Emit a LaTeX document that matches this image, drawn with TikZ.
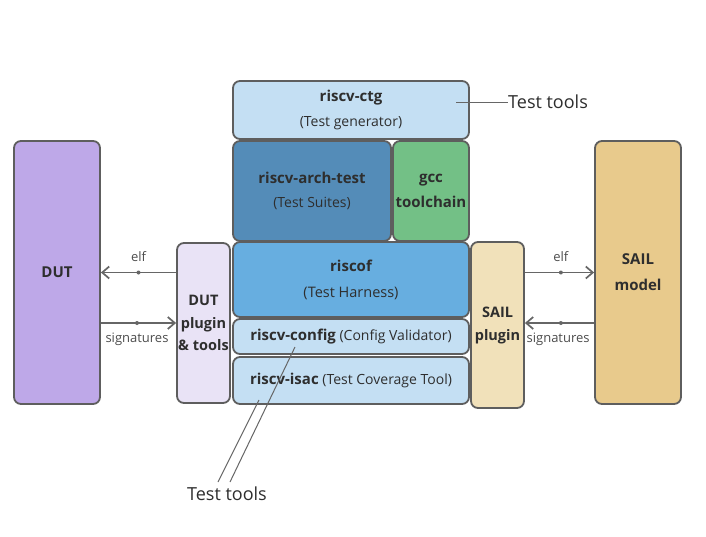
\documentclass[tikz,border=0pt]{standalone}
\usepackage{fontspec}
\setmainfont{Open Sans}
\usetikzlibrary{arrows.meta,calc}
\definecolor{edge}{HTML}{5E5E5E}
\definecolor{txt}{HTML}{2E2E2E}
\definecolor{cdut}{HTML}{BEA8E8}
\definecolor{cdutp}{HTML}{E9E3F6}
\definecolor{clight}{HTML}{C4DFF3}
\definecolor{carch}{HTML}{548CB8}
\definecolor{cgcc}{HTML}{73C086}
\definecolor{criscof}{HTML}{67AEE0}
\definecolor{csailp}{HTML}{F1E1BA}
\definecolor{csail}{HTML}{E8CA8C}
\definecolor{cline}{HTML}{666666}
\tikzset{
  blk/.style={draw=edge, line width=1.8pt, rounded corners=7pt, inner sep=0pt,
    align=center, text=txt, font=\fontsize{14}{25}\selectfont},
  arr/.style={draw=cline, line width=1.7pt, -{Straight Barb[length=7pt,width=12pt,line width=1.7pt]}},
  dotm/.style={circle, fill=cline, inner sep=0pt, minimum size=4pt},
  lbl/.style={text=txt!85, font=\fontsize{13}{15}\selectfont, anchor=center},
  tline/.style={draw=cline, line width=1pt},
  ttool/.style={text=txt, font=\fontsize{18}{20}\selectfont, inner sep=0pt}
}
\begin{document}
\begin{tikzpicture}[x=1pt,y=-1pt]
\useasboundingbox (0,0) rectangle (706,536);
\fill[white] (0,0) rectangle (706,536);
% boxes
\node[blk, fill=cdut, minimum width=86pt, minimum height=263pt, font=\fontsize{15}{16}\selectfont\bfseries] (dut) at (57,272.5) {DUT};
\node[blk, fill=cdutp, minimum width=53pt, minimum height=160pt, font=\fontsize{14.5}{22.5}\selectfont\bfseries] (dutp) at (203.5,323) {DUT\\plugin\\\& tools};
\node[blk, fill=clight, minimum width=236pt, minimum height=58pt] (ctg) at (351,110) {{\fontsize{15}{25}\selectfont\bfseries riscv-ctg}\\(Test generator)};
\node[blk, fill=carch, minimum width=158pt, minimum height=100pt, font=\fontsize{14}{24}\selectfont] (arch) at (312,191) {{\fontsize{15}{24}\selectfont\bfseries riscv-arch-test}\\(Test Suites)};
\node[blk, fill=cgcc, minimum width=76pt, minimum height=100pt, font=\fontsize{15}{25}\selectfont\bfseries] (gcc) at (431,191) {gcc\\toolchain};
\node[blk, fill=criscof, minimum width=236pt, minimum height=75pt, font=\fontsize{14.5}{26}\selectfont] (riscof) at (351,279.5) {{\fontsize{15}{26}\selectfont\bfseries riscof}\\(Test Harness)};
\node[blk, fill=clight, minimum width=236pt, minimum height=35pt] (config) at (351,336.5) {{\fontsize{15}{16}\selectfont\bfseries riscv-config} (Config Validator)};
\node[blk, fill=clight, minimum width=236pt, minimum height=47pt] (isac) at (351,380.5) {{\fontsize{15}{16}\selectfont\bfseries riscv-isac} (Test Coverage Tool)};
\node[blk, fill=csailp, minimum width=53pt, minimum height=166pt, font=\fontsize{14.5}{23}\selectfont\bfseries] (sailp) at (497.5,325) {SAIL\\plugin};
\node[blk, fill=csail, minimum width=86pt, minimum height=263pt, font=\fontsize{15}{26}\selectfont\bfseries] (sail) at (638,272.5) {SAIL\\model};
% arrows left
\draw[arr] (dutp.west |- dut.east) -- (dut.east)
  node[dotm, pos=0.5] (d1) {} node[lbl, pos=0.5, yshift=16pt] (l1) {elf};
\draw[arr] (dut.east |- dutp.west) -- (dutp.west)
  node[dotm, pos=0.48] (d2) {} node[lbl, pos=0.48, yshift=-16pt] (l2) {signatures};
% arrows right
\coordinate (rsig) at (595,323);
\draw[arr] (sailp.east |- sail.west) -- (sail.west)
  node[dotm, pos=0.52] (d3) {} node[lbl, pos=0.52, yshift=16pt] (l3) {elf};
\draw[arr] (sail.west |- rsig) -- (sailp.east |- rsig)
  node[dotm, pos=0.48] (d4) {} node[lbl, pos=0.52, yshift=-16pt] (l4) {signatures};
% test tools labels
\coordinate (t1) at (456,102);
\node[ttool, anchor=west] (tt1) at (508,102) {Test tools};
\draw[tline] (t1) -- (tt1.west);
\node[ttool] (tt2) at (227,494) {Test tools};
\coordinate (b1) at (218,482);
\coordinate (b2) at (230,482);
\coordinate (e1) at (259,400);
\coordinate (e2) at (295,347);
\draw[tline] (b1) -- (e1);
\draw[tline] (b2) -- (e2);
\end{tikzpicture}
\end{document}
